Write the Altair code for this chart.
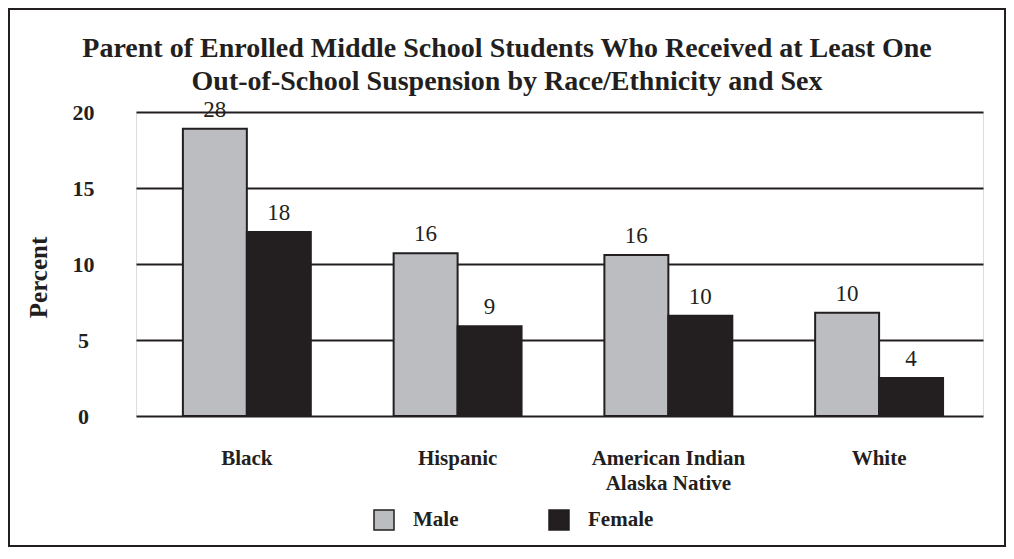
import altair as alt
import pandas as pd

groups = ["Black", "Hispanic", "American Indian|Alaska Native", "White"]
sexes = ["Male", "Female"]
male_bar = [18.9, 10.7, 10.6, 6.8]
female_bar = [12.1, 5.9, 6.6, 2.5]
male_label = ["28", "16", "16", "10"]
female_label = ["18", "9", "10", "4"]
y_ticks = [0, 5, 10, 15, 20]

INK = "#231f20"
GREY = "#bcbdc0"
FONT = "Liberation Serif"

rows = []
for i, g in enumerate(groups):
    rows.append({"group": g, "sex": "Male", "value": male_bar[i], "label": male_label[i]})
    rows.append({"group": g, "sex": "Female", "value": female_bar[i], "label": female_label[i]})
df = pd.DataFrame(rows)

x_enc = alt.X("group:N", sort=groups,
              scale=alt.Scale(paddingInner=0.393, paddingOuter=0.206, align=0.54),
              axis=alt.Axis(title=None, labelAngle=0, domain=False, ticks=False,
                            labelPadding=31, labelFontSize=21, labelFont=FONT,
                            labelFontWeight="bold", labelColor=INK, labelLineHeight=25,
                            labelExpr="split(datum.label, '|')"))
y_enc = alt.Y("value:Q", scale=alt.Scale(domain=[0, 20], nice=False),
              axis=alt.Axis(title="Percent", values=y_ticks, grid=True, gridColor=INK,
                            gridWidth=2, gridOpacity=1, domain=False, ticks=False, tickSize=0,
                            labelAlign="center", labelBaseline="middle", labelPadding=53,
                            labelFontSize=22, labelFont=FONT, labelFontWeight="bold",
                            labelColor=INK, titleFont=FONT, titleFontSize=25,
                            titleFontWeight="bold", titleColor=INK, titleAngle=270,
                            titleX=-98, titleY=165, titleAlign="center",
                            titleBaseline="middle"))
xo_enc = alt.XOffset("sex:N", sort=sexes)

border = alt.Chart(pd.DataFrame({"b": [0]})).mark_rect(
    filled=False, stroke=INK, strokeWidth=2
).encode(x=alt.value(-127), x2=alt.value(869), y=alt.value(-103), y2=alt.value(434))

bars = alt.Chart(df).mark_bar(stroke=INK, strokeWidth=2).encode(
    x=x_enc, xOffset=xo_enc, y=y_enc,
    color=alt.Color("sex:N", sort=sexes,
                    scale=alt.Scale(domain=sexes, range=[GREY, INK]),
                    legend=alt.Legend(title=None, orient="none", direction="horizontal",
                                      legendX=237, legendY=397, symbolType="square",
                                      symbolSize=400, symbolStrokeColor=INK,
                                      symbolStrokeWidth=1.5, symbolOpacity=1,
                                      labelFont=FONT, labelFontSize=21,
                                      labelFontWeight="bold", labelColor=INK,
                                      labelOffset=18, columnPadding=87)),
)

labels = alt.Chart(df).mark_text(dy=-12, baseline="alphabetic", fontSize=23,
                                  font=FONT, color=INK).encode(
    x=alt.X("group:N", sort=groups), xOffset=xo_enc, y="value:Q", text="label:N"
)

chart = alt.layer(border, bars, labels).properties(
    width=847, height=304,
    padding=0,
    title=alt.Title(["Parent of Enrolled Middle School Students Who Received at Least One",
                     "Out-of-School Suspension by Race/Ethnicity and Sex"],
                    fontSize=28, font=FONT, fontWeight="bold", color=INK,
                    anchor="middle", frame="bounds", offset=-88, lineHeight=33),
).configure_view(stroke=INK, strokeWidth=2.5).configure(background="white")

chart.save("out.html", embed_options={"renderer": "svg", "actions": False})
